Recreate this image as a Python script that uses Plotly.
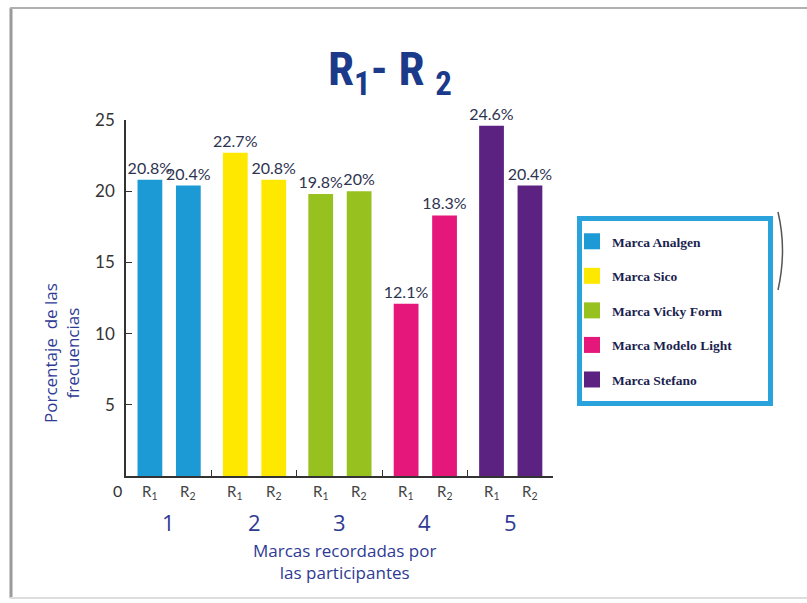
import plotly.graph_objects as go

# ---- data ----
groups = ["1", "2", "3", "4", "5"]
brands = ["Marca Analgen", "Marca Sico", "Marca Vicky Form", "Marca Modelo Light", "Marca Stefano"]
round_labels = ["R<sub>1</sub>", "R<sub>2</sub>"]
r1_values = [20.8, 22.7, 19.8, 12.1, 24.6]
r2_values = [20.4, 20.8, 20.0, 18.3, 20.4]
colors = ["#1B9AD6", "#FFE800", "#97C11F", "#E5177B", "#5C2282"]
y_ticks = [5, 10, 15, 20, 25]

# ---- layout helpers (pixel -> paper) ----
W, H = 807, 603
L, R, T, B = 126, 807 - 553, 120, 603 - 476
PW, PH = W - L - R, H - T - B
def px(x): return (x - L) / PW
def py(y): return (H - B - y) / PH

offsets = [0.28, 0.73]
bar_w = 0.29
navy = "#2E3A94"
label_col = "#2E3350"

fig = go.Figure()
for i, b in enumerate(brands):
    vals = [r1_values[i], r2_values[i]]
    fig.add_trace(go.Bar(
        x=[i + o for o in offsets], y=vals, width=bar_w,
        marker=dict(color=colors[i], line=dict(width=0)),
        text=[f"{v:g}%" for v in vals], textposition="outside", constraintext="none",
        textfont=dict(family="Lato", size=16, color=label_col),
        cliponaxis=False, showlegend=False, name=b, hoverinfo="skip"))
    # legend swatch
    fig.add_trace(go.Scatter(
        x=[None], y=[None], mode="markers", name=b, legendgroup=b,
        marker=dict(symbol="square", size=18, color=colors[i])))

annotations = []
for i, g in enumerate(groups):
    for j, o in enumerate(offsets):
        annotations.append(dict(x=i + o, y=0, xref="x", yref="y", text=round_labels[j],
                                showarrow=False, xanchor="center", yanchor="top", yshift=-4,
                                font=dict(family="Lato", size=15, color="#444444")))
    annotations.append(dict(x=i + 0.5, y=py(522), xref="x", yref="paper", text=g,
                            showarrow=False, xanchor="center", yanchor="middle",
                            font=dict(family="Open Sans", size=22, color=navy)))

annotations += [
    dict(x=px(117), y=0, xref="paper", yref="y", text="0", showarrow=False, yshift=-14,
         xanchor="center", yanchor="middle",
         font=dict(family="Lato", size=16, color="#333333")),
    dict(x=px(390), y=py(72), xref="paper", yref="paper",
         text="<b>R<sub>1</sub>- R <sub>2</sub></b>", showarrow=False,
         xanchor="center", yanchor="middle",
         font=dict(family="Roboto Condensed, Liberation Sans Narrow, DejaVu Sans Condensed", size=47, color="#1B3A8A")),
    dict(x=px(61), y=py(353), xref="paper", yref="paper", textangle=-90,
         text="Porcentaje  de las<br>frecuencias", showarrow=False,
         xanchor="center", yanchor="middle",
         font=dict(family="Open Sans", size=17, color=navy)),
    dict(x=px(344), y=py(561), xref="paper", yref="paper",
         text="Marcas recordadas por<br>las participantes", showarrow=False,
         xanchor="center", yanchor="middle",
         font=dict(family="Open Sans", size=17, color=navy)),
]

shapes = [
    # slide frame
    dict(type="line", xref="paper", yref="paper", x0=px(11), x1=px(11), y0=py(8), y1=py(598),
         line=dict(color="#9a9a9a", width=3)),
    dict(type="line", xref="paper", yref="paper", x0=px(10), x1=px(807), y0=py(8), y1=py(8),
         line=dict(color="#b0b0b0", width=2)),
    dict(type="line", xref="paper", yref="paper", x0=px(10), x1=px(807), y0=py(598), y1=py(598),
         line=dict(color="#dddddd", width=2)),
    dict(type="path", xref="paper", yref="paper",
         path=f"M {px(778)},{py(212)} Q {px(787)},{py(250)} {px(778)},{py(290)}",
         line=dict(color="#555555", width=1.5)),
    # legend frame
    dict(type="rect", xref="paper", yref="paper", x0=px(579.5), x1=px(770.5),
         y0=py(218.5), y1=py(403.5), line=dict(color="#2AA3DC", width=5)),
]

fig.update_layout(
    width=W, height=H, margin=dict(l=L, r=R, t=T, b=B, autoexpand=False),
    paper_bgcolor="white", plot_bgcolor="white",
    xaxis=dict(range=[0, 5], tickvals=[1, 2, 3, 4, 5], showticklabels=False,
               ticks="inside", ticklen=6, tickcolor="#333", showline=True,
               linecolor="#333", linewidth=1.5, showgrid=False, zeroline=False, fixedrange=True),
    yaxis=dict(range=[0, 25], tickvals=y_ticks, ticks="inside", ticklen=6, tickcolor="#333",
               showline=True, linecolor="#333", linewidth=1.5, showgrid=False, zeroline=False,
               tickfont=dict(family="Lato", size=17, color="#333333"), ticklabelstandoff=6),
    legend=dict(x=px(572), y=py(226), xanchor="left", yanchor="top",
                borderwidth=0, bgcolor="rgba(0,0,0,0)",
                font=dict(family="Liberation Serif", size=13.5, color="#1C1F4F", weight="bold"),
                tracegroupgap=14, itemsizing="trace"),
    annotations=annotations, shapes=shapes, showlegend=True,
)

fig.write_html("out.html")
